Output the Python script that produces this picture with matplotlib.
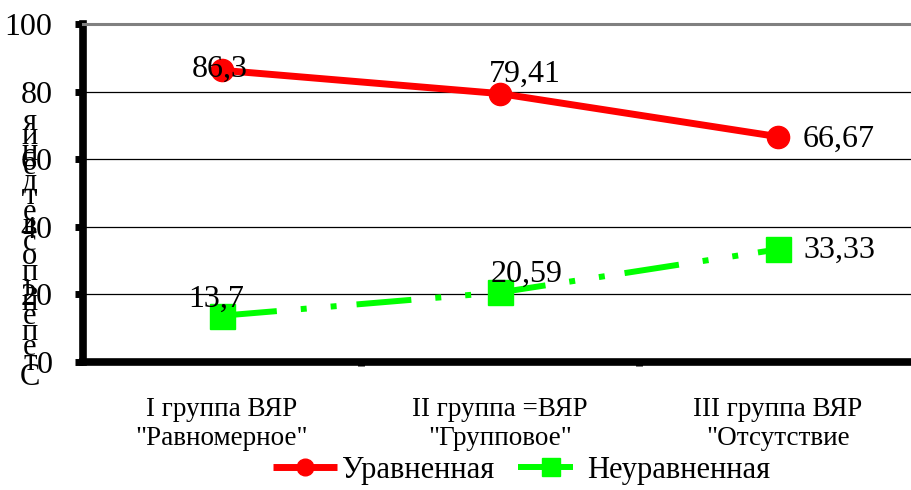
import matplotlib.pyplot as plt

plt.rcParams['font.family'] = ['Liberation Serif', 'DejaVu Serif']
plt.rcParams['lines.scale_dashes'] = False

categories = ['I группа ВЯР\n"Равномерное"', 'II группа =ВЯР\n"Групповое"', 'III группа ВЯР\n"Отсутствие']
even = [86.3, 79.41, 66.67]
uneven = [13.7, 20.59, 33.33]
even_labels = ['86,3', '79,41', '66,67']
uneven_labels = ['13,7', '20,59', '33,33']
yticks = [0, 20, 40, 60, 80, 100]
ylabel_letters = 'яинедтевсопьнепетС'

W, H = 912, 490
fig = plt.figure(figsize=(W / 100, H / 100), dpi=100)
ax = fig.add_axes([83 / W, (H - 362) / H, (W - 83) / W, (362 - 24) / H])

x = range(len(categories))
ax.plot(x, even, color='#ff0000', lw=5, marker='o', ms=16, solid_capstyle='butt',
        label='Уравненная', zorder=3)
ax.plot(x, uneven, color='#00ff00', lw=4.3, marker='s', ms=18, dash_capstyle='butt',
        linestyle=(0, (39.6, 17.3, 4.3, 17.3, 4.3, 14.4)),
        label='Неуравненная', zorder=3)

# data labels (offsets in points)
even_off = [(-1.5, 0.7), (18, 13.7), (44, -2.2)]
uneven_off = [(-4.3, 11.5), (19.4, 13), (44, -0.7)]
for i in x:
    ax.annotate(even_labels[i], (i, even[i]), xytext=even_off[i], textcoords='offset points',
                ha='center', va='center', fontsize=23, zorder=4)
    ax.annotate(uneven_labels[i], (i, uneven[i]), xytext=uneven_off[i], textcoords='offset points',
                ha='center', va='center', fontsize=23, zorder=4)

ax.set_xlim(-0.5, -0.5 + (W - 83) / 278)
ax.set_ylim(0, 100)
ax.set_yticks(yticks)
ax.set_yticklabels([str(v) for v in yticks], fontsize=23)
ax.set_xticks(list(x))
ax.set_xticklabels(categories, fontsize=19.5, linespacing=1.2)
ax.set_xticks([0.5, 1.5], minor=True)
ax.tick_params(axis='x', which='major', length=0, pad=25)
ax.tick_params(axis='x', which='minor', length=3, width=5, color='black')
ax.tick_params(axis='y', length=6, width=5, pad=16, color='black')

ax.yaxis.grid(True, color='black', lw=0.9)
ax.set_axisbelow(True)
ax.spines['right'].set_visible(False)
ax.spines['top'].set_color('#808080')
ax.spines['top'].set_linewidth(2.2)
ax.spines['left'].set_linewidth(5.5)
ax.spines['bottom'].set_linewidth(5.5)

# stacked y-axis title letters
for k, ch in enumerate(ylabel_letters):
    yy = 122 + k * 15
    fig.text(30 / W, 1 - yy / H, ch, ha='center', va='center', fontsize=22)

fig.legend(loc='center', bbox_to_anchor=(0.572, 1 - 470 / H), ncol=2, frameon=False,
           fontsize=22, handlelength=2.1, handletextpad=0.15, columnspacing=0.8,
           markerscale=0.75, borderpad=0)

fig.savefig('out.png', dpi=100)
